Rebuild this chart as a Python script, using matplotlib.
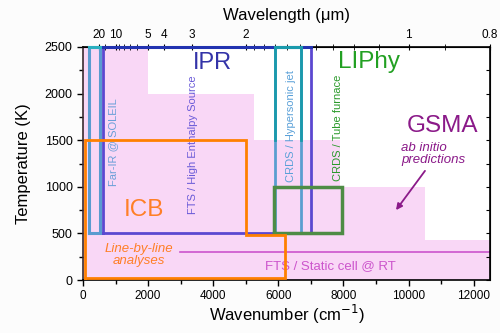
import matplotlib
matplotlib.use("Agg")
import matplotlib.pyplot as plt
from matplotlib.ticker import FixedLocator, MultipleLocator

plt.rcParams['font.family'] = ['Liberation Sans', 'DejaVu Sans']

# GSMA ab initio coverage (stepped pink region)
gsma_x = [0, 2000, 2000, 5250, 5250, 7900, 7900, 10500, 10500, 12500]
gsma_T = [2500, 2500, 2000, 2000, 1500, 1500, 1000, 1000, 430, 430]

# ICB line-by-line region (polygon)
icb_x = [50, 50, 5000, 5000, 6200, 6200, 50]
icb_T = [20, 1500, 1500, 480, 480, 20, 20]

# Rectangles: (x0, x1, T0, T1)
farir = (195, 520, 500, 2500)
fts_he = (600, 7000, 500, 2500)
crds_jet = (5890, 6680, 500, 2500)
crds_tube = (5860, 7960, 500, 1000)
static_T = 296
static_x = (2980, 12500)

wl_major = [20, 10, 5, 4, 3, 2, 1, 0.8]
wl_major_labels = ['20', '10', '5', '4', '3', '2', '1', '0.8']
wl_minor = [15, 9, 8, 7, 6, 1.9, 1.8, 1.7, 1.6, 1.5, 1.4, 1.3, 1.2, 1.1, 0.9]

fig = plt.figure(figsize=(5, 3.33), dpi=100, facecolor='#fcfcfc')
ax = fig.add_axes([0.166, 0.159, 0.814, 0.7])
ax.set_facecolor('white')
ax.set_xlim(0, 12500)
ax.set_ylim(0, 2500)

pink = '#f9d7f6'
ax.fill_between(gsma_x, 0, gsma_T, color=pink, lw=0, zorder=0)

def rect(r, color, lw=2.0, z=3):
    x0, x1, t0, t1 = r
    ax.plot([x0, x0, x1, x1, x0], [t0, t1, t1, t0, t0], color=color, lw=lw, zorder=z,
            solid_joinstyle='miter', clip_on=False)

rect(farir, '#5a9bd0', 2.2)
ax.plot([farir[0], farir[1]], [farir[3], farir[3]], color='#2ab0c0', lw=2.2, zorder=3.1, clip_on=False)
rect(fts_he, '#5b48d0', 2.0)
ax.plot([fts_he[0], fts_he[1]], [fts_he[3], fts_he[3]], color='#2233b0', lw=2.2, zorder=3.2, clip_on=False)
rect(crds_jet, '#5a9ed0', 2.0)
ax.plot([crds_jet[0], crds_jet[0]], [1500, crds_jet[3]], color='#1a9aac', lw=2.0, zorder=3.3)
ax.plot([crds_jet[1], crds_jet[1]], [1500, crds_jet[3]], color='#1a9aac', lw=2.0, zorder=3.3)
ax.plot([crds_jet[0], crds_jet[1]], [crds_jet[3], crds_jet[3]], color='#1a9aac', lw=2.2, zorder=3.3, clip_on=False)
rect(crds_tube, '#4e8c45', 2.5, 4)
ax.plot(icb_x, icb_T, color='#ff8000', lw=2.0, zorder=5, solid_joinstyle='miter')
ax.plot(static_x, [static_T, static_T], color='#cc55cc', lw=1.2, zorder=2)

# Texts
ax.text(3990, 2326, 'IPR', color='#3333a8', fontsize=17, ha='center', va='center')
ax.text(8780, 2336, 'LIPhy', color='#22a022', fontsize=17.5, ha='center', va='center')
ax.text(11030, 1650, 'GSMA', color='#8b1a89', fontsize=17.5, ha='center', va='center')
ax.text(9780, 1357, 'ab initio\npredictions', color='#8b1a89', fontsize=9.5,
        style='italic', ha='left', va='center', linespacing=1.0)
ax.text(1865, 750, 'ICB', color='#ff7f27', fontsize=17.5, ha='center', va='center')
ax.text(1730, 270, 'Line-by-line\nanalyses', color='#ff7f27', fontsize=9.5,
        style='italic', ha='center', va='center', linespacing=1.05)
ax.text(930, 1484, 'Far-IR @ SOLEIL', color='#6a9fd8', fontsize=8, rotation=90,
        ha='center', va='center')
ax.text(3380, 1447, 'FTS / High Enthalpy Source', color='#6a5ad8', fontsize=8, rotation=90,
        ha='center', va='center')
ax.text(6390, 1650, 'CRDS / Hypersonic jet', color='#5aa0d8', fontsize=8, rotation=90,
        ha='center', va='center')
ax.text(7840, 1630, 'CRDS / Tube furnace', color='#2a9a2a', fontsize=8, rotation=90,
        ha='center', va='center')
ax.text(7600, 150, 'FTS / Static cell @ RT', color='#cc55cc', fontsize=9.5,
        ha='center', va='center')

ax.annotate('', xy=(9613, 750), xytext=(10503, 1171),
            arrowprops=dict(arrowstyle='-|>', color='#8b1a89', lw=1.3,
                            mutation_scale=9, shrinkA=0, shrinkB=0))

# Axes styling
ax.set_xlabel('Wavenumber (cm$^{-1}$)', fontsize=12, labelpad=0)
ax.set_ylabel('Temperature (K)', fontsize=12, labelpad=10)
ax.xaxis.set_major_locator(MultipleLocator(2000))
ax.xaxis.set_minor_locator(MultipleLocator(1000))
ax.yaxis.set_major_locator(MultipleLocator(500))
ax.yaxis.set_minor_locator(MultipleLocator(250))
ax.tick_params(axis='both', which='major', labelsize=8.5, length=4, width=1, direction='out')
ax.tick_params(axis='y', which='major', labelsize=9)
ax.tick_params(axis='both', which='minor', length=3, width=1, direction='out')
for s in ax.spines.values():
    s.set_linewidth(1.2)
ax.spines['left'].set_color('#3a2a30')

# Right side ticks
axr = ax.secondary_yaxis('right')
axr.yaxis.set_major_locator(MultipleLocator(250))
axr.tick_params(direction='in', length=3, labelright=False)
axr.set_yticklabels([])

# Top wavelength axis
top = ax.secondary_xaxis('top', functions=(lambda x: x, lambda x: x))
top.xaxis.set_major_locator(FixedLocator([1e4 / w for w in wl_major]))
top.xaxis.set_minor_locator(FixedLocator([1e4 / w for w in wl_minor]))
top.set_xticklabels(wl_major_labels)
top.tick_params(which='major', direction='inout', length=5, labelsize=8.5, pad=2)
top.tick_params(which='minor', direction='inout', length=4)
top.set_xlabel('Wavelength (μm)', fontsize=12, labelpad=6)

fig.savefig('out.png', dpi=100, facecolor=fig.get_facecolor())
